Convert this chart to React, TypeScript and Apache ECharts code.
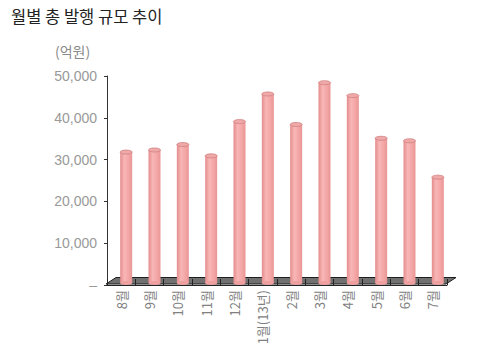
import React, { useEffect, useRef } from "react";
import * as echarts from "echarts";

const categories = ["8월", "9월", "10월", "11월", "12월", "1월(13년)", "2월", "3월", "4월", "5월", "6월", "7월"];
const issuance = [31800, 32300, 33600, 30900, 39100, 45700, 38400, 48400, 45300, 35100, 34500, 25800];
const yTicks = [0, 10000, 20000, 30000, 40000, 50000];
const titleText = "월별 총 발행 규모 추이";
const unitText = "(억원)";

const KR = "'Noto Sans CJK KR', 'Noto Sans', sans-serif";
const NUM = "'Liberation Sans', Arial, sans-serif";

function fmt(v: number): string {
  if (v === 0) return "–";
  return v.toLocaleString("en-US");
}

export default function App() {
  const ref = useRef<HTMLDivElement>(null);
  useEffect(() => {
    if (!ref.current) return;
    const chart = echarts.init(ref.current, null, { renderer: "svg" });
    const option: any = {
      animation: false,
      backgroundColor: "#ffffff",
      title: {
        text: titleText,
        left: 6,
        top: 3,
        textStyle: { fontFamily: KR, fontSize: 16.5, fontWeight: "normal", color: "#222" },
      },
      graphic: [
        {
          type: "text",
          left: 55,
          top: 44,
          style: { text: unitText, font: `14px ${KR}`, fill: "#8a8a8a" },
        },
      ],
      grid: { left: 107, width: 340, top: 76, bottom: 73, containLabel: false },
      xAxis: {
        type: "category",
        data: categories,
        boundaryGap: true,
        z: 5,
        axisLine: { show: true, lineStyle: { color: "#222", width: 1 } },
        axisTick: { show: true, inside: true, length: 6, alignWithLabel: false, lineStyle: { color: "#222" } },
        axisLabel: {
          rotate: 90,
          margin: 5,
          interval: 0,
          fontFamily: KR,
          fontSize: 13,
          color: "#808080",
        },
      },
      yAxis: {
        type: "value",
        min: 0,
        max: 50000,
        interval: 10000,
        z: 5,
        splitLine: { show: false },
        axisLine: { show: true, lineStyle: { color: "#333", width: 1 } },
        axisTick: { show: true, length: 3, lineStyle: { color: "#333" } },
        axisLabel: {
          margin: 10,
          fontFamily: NUM,
          fontSize: 14,
          color: "#999",
          formatter: (v: number) => (yTicks.includes(v) ? fmt(v) : ""),
        },
      },
      series: [
        {
          type: "custom",
          z: 1,
          silent: true,
          data: [0],
          renderItem: (params: any, api: any) => {
            const cs = params.coordSys;
            const zeroY = api.coord([0, 0])[1];
            const fy = zeroY - 1;
            const by = zeroY - 7.5;
            const x0 = cs.x - 1;
            const x1 = cs.x + cs.width - 1;
            return {
              type: "polygon",
              shape: { points: [[x0, fy], [x1, fy], [x1 + 10, by], [x0 + 10, by]] },
              style: { fill: "#707070", stroke: "#1e1e1e", lineWidth: 1 },
            };
          },
        },
        {
          type: "custom",
          z: 3,
          data: issuance.map((v, i) => [i, v]),
          renderItem: (params: any, api: any) => {
            const idx = api.value(0);
            const val = api.value(1);
            const top = api.coord([idx, val]);
            const base = api.coord([idx, 0]);
            const cx = top[0] + 5;
            const w = 12;
            const ty = top[1];
            const byy = base[1] - 2;
            return {
              type: "group",
              children: [
                {
                  type: "rect",
                  shape: { x: cx - w / 2, y: ty, width: w, height: byy - ty },
                  style: {
                    fill: new echarts.graphic.LinearGradient(0, 0, 1, 0, [
                      { offset: 0, color: "#e48c8c" },
                      { offset: 0.35, color: "#f8b6b6" },
                      { offset: 0.7, color: "#f4a6a6" },
                      { offset: 1, color: "#e99595" },
                    ]),
                  },
                },
                {
                  type: "ellipse",
                  shape: { cx: cx, cy: byy, rx: w / 2, ry: 2 },
                  style: { fill: "#eea0a0" },
                },
                {
                  type: "ellipse",
                  shape: { cx: cx, cy: ty, rx: w / 2, ry: 2 },
                  style: { fill: "#f0a9a9", stroke: "#cf7f7f", lineWidth: 0.8 },
                },
              ],
            };
          },
        },
      ],
    };
    chart.setOption(option);
    return () => chart.dispose();
  }, []);
  return (
    <div
      ref={ref}
      style={{ position: "fixed", left: 0, top: 0, width: 500, height: 358 }}
    />
  );
}
